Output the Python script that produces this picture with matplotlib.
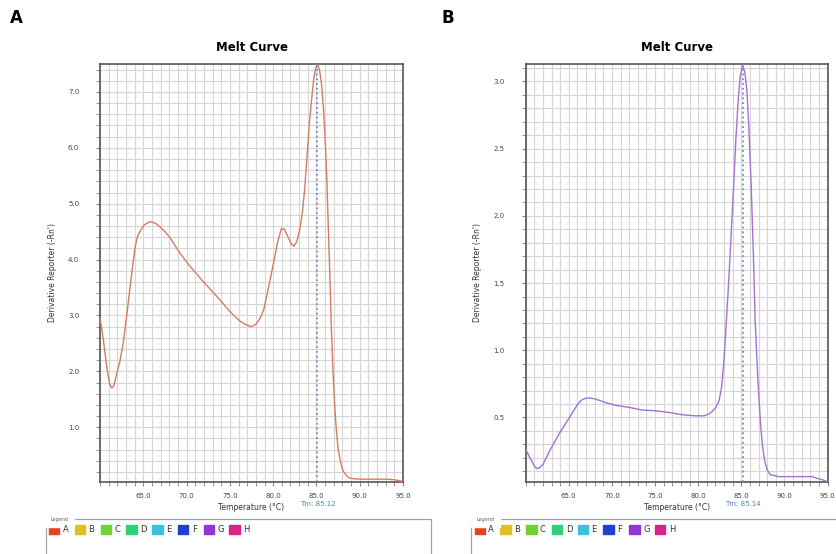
import numpy as np
import matplotlib.pyplot as plt
from matplotlib.patches import Rectangle
from matplotlib.ticker import MultipleLocator

# datos (temperatura en C, derivada -Rn')
temp_a = [60.0, 60.4, 60.8, 61.1, 61.35, 61.6, 61.9, 62.3, 62.7, 63.1, 63.46,
          63.8, 64.04, 64.3, 64.6, 65.1, 65.77, 66.4, 66.9, 67.5, 68.1, 69.2,
          70.4, 71.9, 73.5, 75.0, 76.15, 76.9, 77.5, 78.0, 78.5, 78.9, 79.2,
          79.6, 80.0, 80.5, 80.96, 81.3, 81.7, 82.1, 82.4, 82.75, 83.1, 83.4,
          83.65, 83.9, 84.2, 84.45, 84.7, 84.95, 85.12, 85.35, 85.6, 85.8,
          86.0, 86.2, 86.35, 86.55, 86.7, 86.9, 87.1, 87.3, 87.5, 87.8, 88.1,
          88.5, 88.85, 89.5, 90.4, 93.1, 94.0, 95.0]
deriv_a = [2.95, 2.55, 2.05, 1.78, 1.70, 1.74, 1.94, 2.18, 2.53, 3.02, 3.49,
           3.92, 4.21, 4.40, 4.50, 4.62, 4.68, 4.65, 4.59, 4.50, 4.39, 4.12,
           3.88, 3.61, 3.34, 3.07, 2.90, 2.83, 2.80, 2.84, 2.95, 3.10, 3.31,
           3.60, 3.91, 4.30, 4.56, 4.54, 4.41, 4.28, 4.24, 4.33, 4.56, 4.88,
           5.28, 5.82, 6.47, 6.88, 7.25, 7.44, 7.49, 7.40, 7.13, 6.72, 6.18,
           5.45, 4.68, 3.70, 2.89, 2.05, 1.40, 0.95, 0.62, 0.36, 0.21, 0.13,
           0.09, 0.075, 0.07, 0.07, 0.06, 0.03]

temp_b = [60.0, 60.5, 61.0, 61.3, 61.6, 62.0, 62.77, 63.9, 65.08, 66.04, 66.5,
          67.0, 67.5, 68.15, 69.3, 70.46, 72.0, 73.5, 75.08, 76.6, 78.15, 79.7,
          80.65, 81.2, 81.6, 82.0, 82.4, 82.7, 82.96, 83.2, 83.5, 83.8, 84.1,
          84.35, 84.6, 84.85, 85.14, 85.4, 85.65, 85.9, 86.15, 86.4, 86.6,
          86.9, 87.2, 87.45, 87.7, 88.0, 88.35, 89.3, 91.6, 93.2, 93.9, 94.5,
          95.0]
deriv_b = [0.265, 0.20, 0.14, 0.12, 0.125, 0.15, 0.25, 0.38, 0.50, 0.60, 0.63,
           0.644, 0.645, 0.636, 0.61, 0.59, 0.575, 0.555, 0.55, 0.537, 0.52,
           0.512, 0.512, 0.525, 0.544, 0.57, 0.62, 0.72, 0.90, 1.15, 1.47,
           1.84, 2.21, 2.55, 2.83, 3.03, 3.12, 3.07, 2.93, 2.62, 2.21, 1.70,
           1.22, 0.80, 0.475, 0.29, 0.18, 0.11, 0.075, 0.06, 0.06, 0.06, 0.045,
           0.035, 0.02]

tm_a = 85.12
tm_b = 85.14
pozos = ['A', 'B', 'C', 'D', 'E', 'F', 'G', 'H']
colores_pozos = ['#e8401c', '#e0c020', '#6fd334', '#2fd27a', '#35c3e0',
                 '#2140d2', '#9436d6', '#e0218c']

fig = plt.figure(figsize=(8.37, 5.54), dpi=100)


def panel(rect, temp, deriv, color, tm, ylim, mayor, menor, letra, x_letra):
    ax = fig.add_axes(rect)
    ax.plot(temp, deriv, color=color, lw=1.0, zorder=3)
    ax.axvline(tm, color='#6f8fc8', lw=1.3, ls=':', zorder=4)
    ax.set_xlim(60, 95)
    ax.set_ylim(*ylim)
    ax.xaxis.set_minor_locator(MultipleLocator(1))
    ax.yaxis.set_major_locator(MultipleLocator(mayor))
    ax.yaxis.set_minor_locator(MultipleLocator(menor))
    ax.set_xticks([65, 70, 75, 80, 85, 90, 95])
    ax.set_xticklabels([f'{v:.1f}' for v in [65, 70, 75, 80, 85, 90, 95]])
    ax.yaxis.set_major_formatter(lambda v, p: f'{v:.1f}')
    ax.grid(True, which='both', color='#d6d6d6', lw=0.8, zorder=0)
    ax.tick_params(which='both', direction='out', length=3, color='#888888',
                   labelsize=5, labelcolor='#444444')
    ax.tick_params(axis='y', pad=12)
    ax.tick_params(axis='x', pad=5)
    for s in ax.spines.values():
        s.set_color('#555555')
        s.set_linewidth(1.2)
    ax.set_title('Melt Curve', fontsize=8.5, fontweight='bold', pad=9)
    ax.set_xlabel('Temperature (°C)', fontsize=5.5, color='#333333', labelpad=3)
    ax.set_ylabel("Derivative Reporter (-Rn')", fontsize=5.5, color='#333333',
                  labelpad=8)
    ax.text(tm, -0.045, f'Tm: {tm:.2f}', transform=ax.get_xaxis_transform(),
            ha='center', va='top', fontsize=5, color='#5a7fb0')
    fig.text(x_letra, 0.967, letra, fontsize=12, fontweight='bold', va='center')

    # caja de leyenda
    x0 = rect[0] - 0.065
    fig.add_artist(Rectangle((x0, -0.05), 0.46, 0.113, transform=fig.transFigure,
                             fill=False, ec='#9aa4ad', lw=0.9))
    fig.text(x0 + 0.006, 0.063, 'Legend', fontsize=3.5, color='#666666',
             va='center', backgroundcolor='white')
    for i, (p, c) in enumerate(zip(pozos, colores_pozos)):
        xs = x0 + 0.004 + i * 0.0308
        fig.add_artist(Rectangle((xs, 0.037), 0.0125, 0.016,
                                 transform=fig.transFigure, color=c))
        fig.text(xs + 0.0165, 0.0445, p, fontsize=6, color='#333333',
                 va='center')
    return ax


panel([0.1195, 0.13, 0.362, 0.7545], temp_a, deriv_a, '#d77a62', tm_a,
      (0.02, 7.5), 1.0, 0.2, 'A', 0.012)
panel([0.628, 0.13, 0.3608, 0.7545], temp_b, deriv_b, '#a472d2', tm_b,
      (0.02, 3.13), 0.5, 0.1, 'B', 0.527)

fig.savefig('out.png', dpi=100)
